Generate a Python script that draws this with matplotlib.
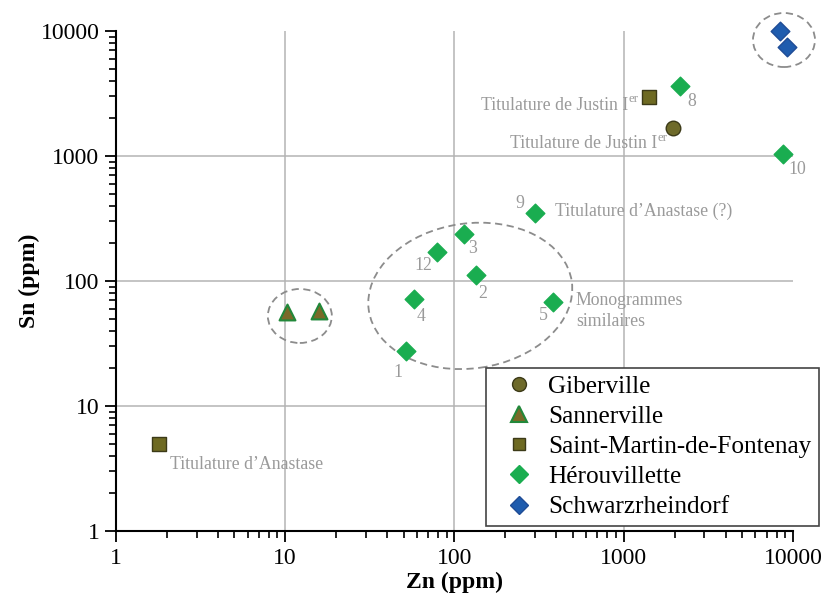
import numpy as np
import matplotlib.pyplot as plt
import matplotlib.transforms as mtransforms
from matplotlib.patches import Ellipse
from matplotlib.lines import Line2D

plt.rcParams['font.family'] = ['Liberation Serif', 'DejaVu Serif']

# Data (Zn ppm, Sn ppm)
giber_zn = [1950]
giber_sn = [1680]

sanner_zn = [10.2, 15.8]
sanner_sn = [56.5, 57.5]

stmartin_zn = [1.8, 1410]
stmartin_sn = [5.0, 2960]

herou_id = ["8", "10", "9", "3", "12", "2", "4", "5", "1"]
herou_zn = [2150, 8730, 299, 114, 78.8, 134, 57.6, 382, 51.7]
herou_sn = [3630, 1040, 350, 238, 171, 112, 71.8, 67.9, 27.5]

schwarz_zn = [8380, 9220]
schwarz_sn = [10000, 7450]

# ellipse centres (data units)
groups_cx = [12.2, 124, 8850]
groups_cy = [52.5, 76, 8470]

GREY_TXT = "#9a9a9a"
FS_ann = 12.8

fig = plt.figure(figsize=(8.26, 6.01), dpi=100)
ax = fig.add_axes([0.1404, 0.1165, 0.8196, 0.8319])
ax.set_xscale("log")
ax.set_yscale("log")
ax.set(xlim=(1, 10000), ylim=(1, 10000))

# gridlines at the inner decades only
for v in [10, 100, 1000]:
    ax.axvline(v, color="#b4b4b4", lw=1.1, zorder=0)
    ax.axhline(v, color="#b4b4b4", lw=1.1, zorder=0)

ax.scatter(giber_zn, giber_sn, marker="o", s=110, c="#6e6a2a", edgecolors="#3c3a18", linewidths=1, zorder=3, clip_on=False)
ax.scatter(sanner_zn, sanner_sn, marker="^", s=130, c="#7a6a28", edgecolors="#22883a", linewidths=1.5, zorder=3, clip_on=False)
ax.scatter(stmartin_zn, stmartin_sn, marker="s", s=90, c="#6e6a22", edgecolors="#3c3a18", linewidths=1, zorder=3, clip_on=False)
ax.scatter(herou_zn, herou_sn, marker="D", s=90, c="#1aad50", edgecolors="#1aad50", linewidths=1, zorder=3, clip_on=False)
ax.scatter(schwarz_zn, schwarz_sn, marker="D", s=90, c="#1f5cae", edgecolors="#1f4c96", linewidths=1, zorder=3, clip_on=False)

# dashed ellipses drawn in pixel size around data centres
sizes = [(64, 54, 0), (205, 145, 8), (62, 54, 0)]
for cx, cy, (w, h, a) in zip(groups_cx, groups_cy, sizes):
    tr = mtransforms.Affine2D().scale(fig.dpi / 100) + mtransforms.ScaledTranslation(cx, cy, ax.transData)
    e = Ellipse((0, 0), w, h, angle=a, transform=tr, fill=False, clip_on=False,
                edgecolor="#8c8c8c", lw=1.3, linestyle=(0, (4, 2.5)), zorder=2)
    ax.add_patch(e)

# point numbers for Hérouvillette
num_off = {"8": (12, -15), "10": (14, -16), "9": (-15, 9), "3": (8, -15),
           "12": (-14, -14), "2": (7, -19), "4": (7, -18), "5": (-10, -13), "1": (-8, -21)}
for lab, x, y in zip(herou_id, herou_zn, herou_sn):
    ax.annotate(lab, (x, y), xytext=num_off[lab], textcoords="offset pixels",
                ha="center", va="center", fontsize=FS_ann, color=GREY_TXT)


def justin(x, y, dx, dy):
    # main text plus raised "er"
    ax.annotate("Titulature de Justin I", (x, y), xytext=(dx, dy), textcoords="offset pixels",
                ha="right", va="center", fontsize=FS_ann, color=GREY_TXT)
    ax.annotate("er", (x, y), xytext=(dx + 1, dy + 6), textcoords="offset pixels",
                ha="left", va="center", fontsize=FS_ann * 0.72, color=GREY_TXT)


justin(stmartin_zn[1], stmartin_sn[1], -21, -8)
justin(giber_zn[0], giber_sn[0], -16, -16)

ax.annotate("Titulature d\u2019Anastase (?)", (herou_zn[2], herou_sn[2]), xytext=(20, 2),
            textcoords="offset pixels", ha="left", va="center", fontsize=FS_ann, color=GREY_TXT)
ax.annotate("Monogrammes\nsimilaires", (herou_zn[7], herou_sn[7]), xytext=(23, -9),
            textcoords="offset pixels", ha="left", va="center", fontsize=FS_ann, color=GREY_TXT,
            linespacing=1.25)
ax.annotate("Titulature d\u2019Anastase", (stmartin_zn[0], stmartin_sn[0]), xytext=(11, -21),
            textcoords="offset pixels", ha="left", va="center", fontsize=FS_ann, color=GREY_TXT)

# axes styling
for s in ["top", "right"]:
    ax.spines[s].set_visible(False)
for s in ["left", "bottom"]:
    ax.spines[s].set_linewidth(1.5)
ax.set_xticks([1, 10, 100, 1000, 10000])
ax.set_xticklabels(["1", "10", "100", "1000", "10000"])
ax.set_yticks([1, 10, 100, 1000, 10000])
ax.set_yticklabels(["1", "10", "100", "1000", "10000"])
ax.tick_params(which="major", direction="out", length=8, width=1.3, labelsize=17, pad=4)
ax.tick_params(which="minor", direction="out", length=5, width=1.2)

ax.set_xlabel("Zn (ppm)", fontsize=17, fontweight="bold", labelpad=2)
ax.set_ylabel("Sn (ppm)", fontsize=17, fontweight="bold", labelpad=0)

handles = [
    Line2D([], [], ls="", marker="o", ms=10, mfc="#6e6a2a", mec="#3c3a18"),
    Line2D([], [], ls="", marker="^", ms=11, mfc="#7a6a28", mec="#22883a", mew=1.5),
    Line2D([], [], ls="", marker="s", ms=9, mfc="#6e6a22", mec="#3c3a18"),
    Line2D([], [], ls="", marker="D", ms=9, mfc="#1aad50", mec="#1aad50"),
    Line2D([], [], ls="", marker="D", ms=9, mfc="#1f5cae", mec="#1f4c96"),
]
labels = ["Giberville", "Sannerville", "Saint-Martin-de-Fontenay", "Hérouvillette", "Schwarzrheindorf"]
leg = ax.legend(handles, labels, loc="upper left", bbox_to_anchor=(0.5465, 0.326), fontsize=18.2,
                fancybox=False, edgecolor="#444444", framealpha=1, handlelength=2.0,
                handletextpad=0.15, labelspacing=0.29, borderpad=0.3, borderaxespad=0)
leg.get_frame().set_linewidth(1.2)
leg.set_clip_on(False)

fig.savefig("out.png", dpi=100)
